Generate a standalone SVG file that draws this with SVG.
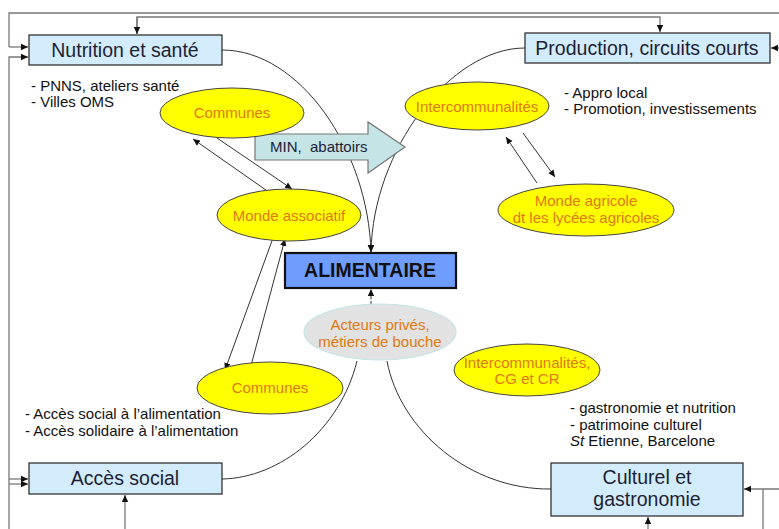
<svg xmlns="http://www.w3.org/2000/svg" width="779" height="529" viewBox="0 0 779 529">
<defs>
<marker id="ah" markerWidth="8" markerHeight="8" refX="7" refY="4" orient="auto" markerUnits="userSpaceOnUse"><path d="M0,0.8 L7,4 L0,7.2 z" fill="#111"/></marker>
</defs>
<style>
text{font-family:"Liberation Sans",Arial,sans-serif;}
.box{fill:#d2ecfb;stroke:#333;stroke-width:1.3;}
.bt{font-size:19.5px;fill:#1e1e36;text-anchor:middle;}
.ell{fill:#ffff00;stroke:#444;stroke-width:1;}
.et{font-size:15px;fill:#e07a10;text-anchor:middle;}
.note{font-size:15px;fill:#111;}
.frame{fill:none;stroke:#777;stroke-width:1.3;}
.c{fill:none;stroke:#333;stroke-width:1;}
</style>
<g id="connectors">
<path class="frame" d="M9,47 V13 H779"/>
<path class="frame" d="M9,47 H28" marker-end="url(#ah)"/>
<path class="frame" d="M9,529 V57 H28" marker-end="url(#ah)"/>
<path class="frame" d="M137,34 V17 H660 V32" marker-end="url(#ah)"/>
<path class="frame" d="M137,17 V34" marker-end="url(#ah)"/>
<path class="frame" d="M779,48 H771" marker-end="url(#ah)"/>
<path class="frame" d="M9,479 H28" marker-end="url(#ah)"/>
<path class="frame" d="M9,484 H28" marker-end="url(#ah)"/>
<path class="frame" d="M125,529 V495" marker-end="url(#ah)"/>
<path class="frame" d="M779,489 H744" marker-end="url(#ah)"/>
<path class="frame" d="M763,489 V529"/>
<path class="frame" d="M648,529 V517" marker-end="url(#ah)"/>
<path class="c" d="M222,50 C300,50 368,150 371,252" marker-end="url(#ah)"/>
<path class="c" d="M525,48 C450,48 373,150 371,252" marker-end="url(#ah)"/>
<path class="c" d="M371,305 V289" stroke-dasharray="4,1.5" marker-end="url(#ah)"/>
<path class="c" d="M357,361 C340,430 280,478 222,479"/>
<path class="c" d="M387,361 C400,430 470,490 551,489"/>
<path class="c" d="M273,195 L193,139" marker-end="url(#ah)"/>
<path class="c" d="M217,138 L292,189" marker-end="url(#ah)"/>
<path class="c" d="M273,238 L225,370" marker-end="url(#ah)"/>
<path class="c" d="M249,373 L285,239" marker-end="url(#ah)"/>
<path class="c" d="M537,183 L506,137" marker-end="url(#ah)"/>
<path class="c" d="M523,133 L555,177" marker-end="url(#ah)"/>
</g>
<g id="nutrition">
<rect class="box" x="29" y="35" width="193" height="30"/>
<text class="bt" x="125" y="57">Nutrition et santé</text>
</g>
<g id="production">
<rect class="box" x="525" y="33" width="245" height="30"/>
<text class="bt" x="647" y="55">Production, circuits courts</text>
</g>
<g id="acces">
<rect class="box" x="29" y="463" width="193" height="31"/>
<text class="bt" x="125" y="485">Accès social</text>
</g>
<g id="culturel">
<rect class="box" x="551" y="463" width="192" height="53"/>
<text class="bt" x="647" y="484">Culturel et</text>
<text class="bt" x="647" y="506">gastronomie</text>
</g>
<g id="alimentaire">
<rect x="285" y="253" width="171" height="35" fill="#6f9cff" stroke="#111" stroke-width="2.2"/>
<text x="370" y="277" font-size="19.5" font-weight="bold" fill="#111" text-anchor="middle">ALIMENTAIRE</text>
</g>
<g id="min">
<polygon points="255,134 368,134 368,122 405,147 368,173 368,160 255,160" fill="#c4e4e6" stroke="#777" stroke-width="1.2"/>
<text x="270" y="152" font-size="15" fill="#1e1e36" xml:space="preserve">MIN,  abattoirs</text>
</g>
<g id="communes1">
<ellipse class="ell" cx="232" cy="113" rx="72" ry="25"/>
<text class="et" x="232" y="118">Communes</text>
</g>
<g id="intercom1">
<ellipse class="ell" cx="477" cy="106" rx="72" ry="24"/>
<text class="et" x="477" y="112">Intercommunalités</text>
</g>
<g id="associatif">
<ellipse class="ell" cx="289" cy="215" rx="72" ry="26"/>
<text class="et" x="289" y="221">Monde associatif</text>
</g>
<g id="agricole">
<ellipse class="ell" cx="586" cy="210" rx="88" ry="26"/>
<text class="et" x="586" y="206">Monde agricole</text>
<text class="et" x="586" y="223" font-size="13">dt les lycées agricoles</text>
</g>
<g id="acteurs">
<ellipse cx="380" cy="332" rx="76" ry="28" fill="#e2e2e2" stroke="#c4e4e6" stroke-width="1.2"/>
<text class="et" x="380" y="330" fill="#e07a30">Acteurs privés,</text>
<text class="et" x="380" y="347">métiers de bouche</text>
</g>
<g id="communes2">
<ellipse class="ell" cx="270" cy="388" rx="73" ry="26"/>
<text class="et" x="270" y="393">Communes</text>
</g>
<g id="intercom2">
<ellipse class="ell" cx="527" cy="370" rx="73" ry="26"/>
<text class="et" x="527" y="368">Intercommunalités,</text>
<text class="et" x="527" y="384">CG et CR</text>
</g>
<g id="notes">
<text class="note" x="31" y="91">- PNNS, ateliers santé</text>
<text class="note" x="31" y="107">- Villes OMS</text>
<text class="note" x="564" y="98">- Appro local</text>
<text class="note" x="564" y="114">- Promotion, investissements</text>
<text class="note" x="25" y="419">- Accès social à l’alimentation</text>
<text class="note" x="25" y="436">- Accès solidaire à l’alimentation</text>
<text class="note" x="570" y="413">- gastronomie et nutrition</text>
<text class="note" x="570" y="430">- patrimoine culturel</text>
<text class="note" x="570" y="446"><tspan font-style="italic">St</tspan> Etienne, Barcelone</text>
</g>
</svg>
